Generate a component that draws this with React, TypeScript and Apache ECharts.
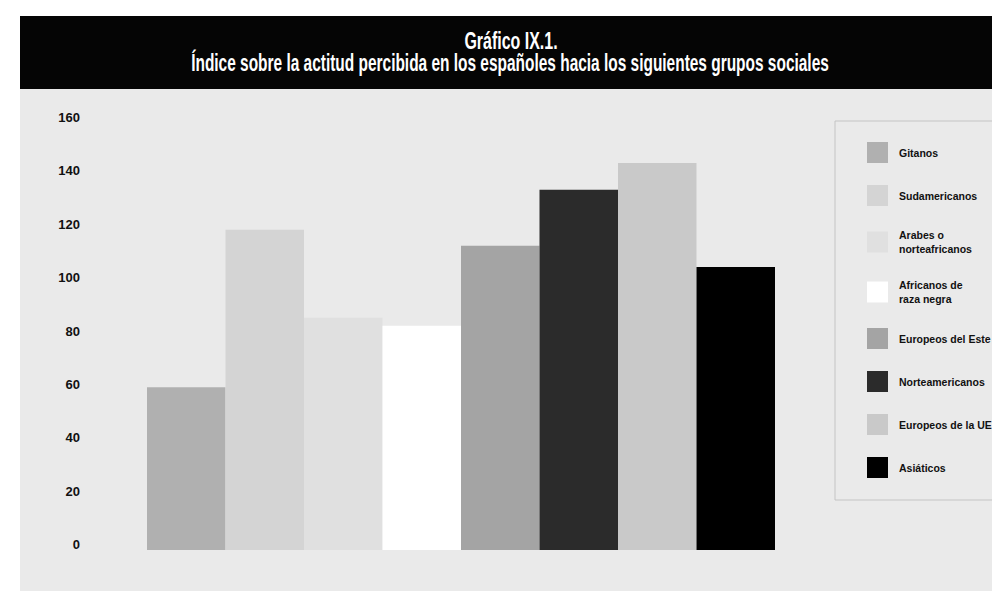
import React, { useEffect, useRef } from "react";
import * as echarts from "echarts";

const categories = [""];
const seriesNames = [
  "Gitanos",
  "Sudamericanos",
  "Arabes o\nnorteafricanos",
  "Africanos de\nraza negra",
  "Europeos del Este",
  "Norteamericanos",
  "Europeos de la UE",
  "Asiáticos",
];
const seriesValues = [61, 120, 87, 84, 114, 135, 145, 106];
const seriesColors = ["#b0b0b0", "#d4d4d4", "#e0e0e0", "#ffffff", "#a4a4a4", "#2b2b2b", "#c9c9c9", "#000000"];
const titleLine1 = "Gráfico IX.1.";
const titleLine2 = "Índice sobre la actitud percibida en los españoles hacia los siguientes grupos sociales";
const yMin = 0;
const yMax = 160;
const yStep = 20;

const FONT = '"Liberation Sans", Arial, sans-serif';

export default function App() {
  const ref = useRef<HTMLDivElement>(null);
  useEffect(() => {
    document.body.style.margin = "0";
    const chart = echarts.init(ref.current!, null, { renderer: "svg" });
    chart.setOption({
      animation: false,
      backgroundColor: "#eaeaea",
      textStyle: { fontFamily: FONT },
      graphic: [
        { type: "rect", shape: { x: 0, y: 0, width: 992, height: 16 }, style: { fill: "#ffffff" }, silent: true },
        { type: "rect", shape: { x: 0, y: 0, width: 20, height: 591 }, style: { fill: "#ffffff" }, silent: true },
        { type: "rect", shape: { x: 20, y: 16, width: 972, height: 73 }, style: { fill: "#050505" }, silent: true },
        {
          type: "text",
          x: 511,
          y: 41,
          scaleX: 0.695,
          style: {
            text: titleLine1,
            fill: "#ffffff",
            fontFamily: FONT,
            fontWeight: "bold",
            fontSize: 23,
            textAlign: "center",
            verticalAlign: "middle",
          },
        },
        {
          type: "text",
          x: 510,
          y: 63,
          scaleX: 0.672,
          style: {
            text: titleLine2,
            fill: "#ffffff",
            fontFamily: FONT,
            fontWeight: "bold",
            fontSize: 23,
            textAlign: "center",
            verticalAlign: "middle",
          },
        },
        {
          type: "rect",
          shape: { x: 835, y: 121, width: 170, height: 379 },
          style: { fill: "none", stroke: "#c4c4c4", lineWidth: 1 },
          silent: true,
        },
      ],
      grid: { left: 88, right: 158, top: 123, bottom: 41, containLabel: false },
      xAxis: {
        type: "category",
        data: categories,
        axisLine: { show: false },
        axisTick: { show: false },
        axisLabel: { show: false },
      },
      yAxis: {
        type: "value",
        min: yMin,
        max: yMax,
        interval: yStep,
        axisLine: { show: false },
        axisTick: { show: false },
        splitLine: { show: false },
        axisLabel: {
          color: "#111",
          fontFamily: FONT,
          fontWeight: "bold",
          fontSize: 13,
          margin: 8,
          verticalAlign: "bottom",
          lineHeight: 11,
        },
      },
      legend: {
        orient: "vertical",
        left: 862,
        top: 137,
        itemWidth: 21,
        itemHeight: 21,
        itemGap: 22,
        icon: "rect",
        align: "left",
        data: seriesNames,
        textStyle: {
          color: "#111",
          fontFamily: FONT,
          fontWeight: "bold",
          fontSize: 10.5,
          lineHeight: 14,
          padding: [0, 0, 0, 6],
        },
      },
      series: seriesNames.map((name, i) => ({
        type: "bar",
        name,
        data: [seriesValues[i]],
        barWidth: 78.5,
        barGap: "0%",
        itemStyle: { color: seriesColors[i] },
      })),
    });
    return () => chart.dispose();
  }, []);
  return <div ref={ref} style={{ width: 992, height: 591 }} />;
}
